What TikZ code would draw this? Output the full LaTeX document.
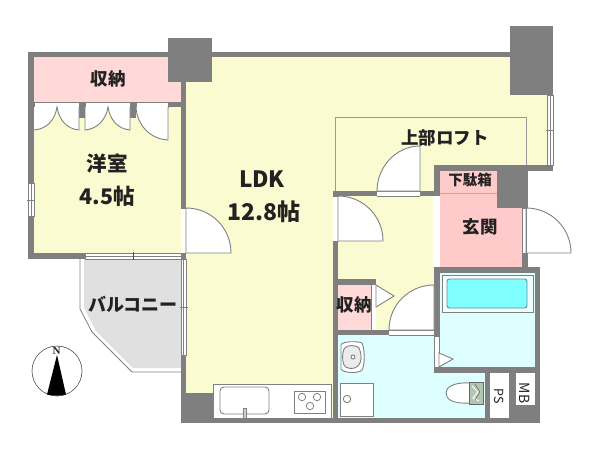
\documentclass[tikz,border=0pt]{standalone}
\usepackage{fontspec}
\setmainfont{Liberation Serif}
\newfontfamily\jp{Noto Sans CJK JP}
\definecolor{wallc}{HTML}{7F7F7F}
\definecolor{roomy}{HTML}{FBFBD2}
\definecolor{pinkc}{HTML}{FFD8D8}
\definecolor{pinkd}{HTML}{FFCACA}
\definecolor{cyanl}{HTML}{DDFFFF}
\definecolor{cyand}{HTML}{80FFFF}
\definecolor{balc}{HTML}{E0E0E0}
\definecolor{linec}{HTML}{808080}
\definecolor{textc}{HTML}{222222}
\tikzset{
 wall/.style={fill=wallc,draw=none},
 thin line/.style={draw=linec,line width=0.9pt},
 doorleaf/.style={draw=linec,line width=0.9pt,fill=white},
 lab/.style={text=textc,inner sep=0pt,align=center},
}
\begin{document}
\begin{tikzpicture}[x=1pt,y=-1pt]
\useasboundingbox[fill=white] (0,0) rectangle (600,450);
% floors
\fill[roomy] (34,57) rectangle (181,253);
\fill[roomy] (186,57) -- (547,57) -- (547,165) -- (434,165) -- (434,191) -- (333,191) -- (333,418) -- (186,418) -- cycle;
\fill[roomy] (338,196) rectangle (434,330);
\fill[pinkc] (34,57) rectangle (181,102);
\fill[pinkc] (338,285) rectangle (371,330);
\fill[pinkd] (440,171) rectangle (522,267);
\fill[cyanl] (338,335) rectangle (434,367);
\fill[cyanl] (338,367) rectangle (485,418);
\fill[cyanl] (440,273) rectangle (535,367);
% balcony
\fill[balc] (84,259) -- (181,259) -- (181,368) -- (133,368) -- (96,331) -- (84,308) -- cycle;
\draw[thin line,line width=0.8pt] (80,259) -- (80,309) -- (92,332) -- (132,372) -- (181,372);
% walls
\fill[wall] (28,52) rectangle (168,57);
\fill[wall] (28,52) rectangle (34,259);
\fill[wall] (28,253) rectangle (85,259);
\fill[wall] (168,38) rectangle (212,82);
\fill[wall] (212,52) rectangle (510,57);
\fill[wall] (510,26) rectangle (553,95);
\fill[wall] (181,82) rectangle (186,208);
\fill[wall] (79,102) rectangle (85,118);
\fill[wall] (130,102) rectangle (136,118);
\fill[wall] (168,102) rectangle (181,107);
\fill[wall] (181,253) rectangle (186,259);
\fill[wall] (434,165) rectangle (553,171);
\fill[wall] (434,165) rectangle (440,193);
\fill[wall] (497,171) rectangle (528,208);
\fill[wall] (522,253) rectangle (528,267);
\fill[wall] (333,191) rectangle (377,196);
\fill[wall] (420,191) rectangle (440,196);
\fill[wall] (333,241) rectangle (338,423);
\fill[wall] (338,279) rectangle (376,285);
\fill[wall] (338,330) rectangle (389,335);
\fill[wall] (434,267) rectangle (540,273);
\fill[wall] (434,273) rectangle (440,336);
\fill[wall] (434,367) rectangle (535,373);
\fill[wall] (535,267) rectangle (540,423);
\fill[wall] (181,355) rectangle (186,393);
\fill[wall] (181,393) rectangle (213,423);
\fill[wall] (213,418) rectangle (540,423);
\fill[wall] (485,373) rectangle (535,418);
\fill[white] (433,196) rectangle (440,267);
\fill[white] (490,373) rectangle (509,418);
\fill[white] (516,373) rectangle (535,405);
% closet top rail
\draw[thin line,fill=white,line width=0.5pt] (34,102) rectangle (79,107);
\draw[thin line,fill=white,line width=0.5pt] (85,102) rectangle (130,107);
\draw[thin line,fill=white,line width=0.5pt] (136,102) rectangle (168,107);
% closet doors
\fill[white] (34,107) -- (34,130) .. controls (47,129) and (55,120) .. (57,107) .. controls (59,120) and (67,129) .. (79,130) -- (79,107) -- cycle;
\draw[thin line] (34,130) .. controls (47,129) and (55,120) .. (57,107) .. controls (59,120) and (67,129) .. (79,130) -- (79,107);
\fill[white] (85,107) -- (85,130) .. controls (97,129) and (106,120) .. (108,107) .. controls (110,120) and (118,129) .. (130,130) -- (130,107) -- cycle;
\draw[thin line] (85,107) -- (85,130) .. controls (97,129) and (106,120) .. (108,107) .. controls (110,120) and (118,129) .. (130,130) -- (130,107);
\fill[white] (136,107) .. controls (137,125) and (150,139) .. (168,140) -- (168,107) -- cycle;
\draw[thin line] (136,107) .. controls (137,125) and (150,139) .. (168,140) -- (168,107);
% western room left window
\draw[thin line,fill=white,line width=0.6pt] (28,183) rectangle (34,216);
\draw[thin line,line width=0.5pt] (31,183) -- (31,216) (27,200) -- (35,200);
% south window of western room
\draw[thin line,fill=white,line width=0.6pt] (85,253) rectangle (181,259);
\draw[thin line,line width=0.5pt] (85,256) -- (181,256);
\draw[black!70,line width=0.5pt] (133,252) -- (133,260);
% balcony window
\draw[thin line,fill=white,line width=0.6pt] (181,259) rectangle (186,355);
\draw[thin line,line width=0.5pt] (183.5,259) -- (183.5,355) (180,307) -- (188,307);
% door western room
\fill[white] (181,208) rectangle (186,253);
\draw[doorleaf] (186,208) .. controls (211,208) and (231,228) .. (231,253) -- (186,253) -- cycle;
\draw[thin line,line width=0.5pt] (181,208) -- (186,208) (181,253) -- (186,253);
% loft outline
\draw[draw=linec!80,line width=0.6pt] (335,191) -- (335,117) -- (526,117) -- (526,165);
% east window
\draw[thin line,fill=white,line width=0.6pt] (547,95) rectangle (553,165);
\draw[thin line,line width=0.5pt] (550,95) -- (550,165) (546,130) -- (554,130);
% loft door
\fill[white] (377,191) rectangle (420,196);
\draw[thin line,line width=0.5pt] (377,191) -- (420,191) (377,196) -- (420,196);
\draw[doorleaf] (377,191) .. controls (377,167) and (396,146) .. (420,146) -- (420,191) -- cycle;
% corridor-LDK door
\fill[white] (333,196) rectangle (338,241);
\draw[doorleaf] (338,196) .. controls (363,196) and (383,216) .. (383,241) -- (338,241) -- cycle;
\draw[thin line,line width=0.5pt] (333,196) -- (338,196) (333,241) -- (338,241);
% entrance door
\fill[white] (522,208) rectangle (528,253);
\draw[doorleaf] (526,208) .. controls (551,208) and (571,228) .. (571,253) -- (526,253) -- cycle;
\draw[thin line,line width=0.5pt] (522,208) rectangle (526,253);
% getabako separator
\draw[pinkd!80!black,line width=0.6pt] (440,193) -- (497,193);
% storage door
\fill[white] (371,285) rectangle (376,330);
\draw[linec,line width=0.4pt] (371,285) -- (371,330);
\draw[doorleaf] (376,285) -- (394,296) -- (376,307) -- cycle;
% bath-corridor door
\fill[white] (389,330) rectangle (434,335);
\draw[thin line,line width=0.5pt] (389,330) -- (434,330) (389,335) -- (434,335);
\draw[doorleaf] (389,330) .. controls (389,305) and (409,285) .. (434,285) -- (434,330) -- cycle;
% bath door
\draw[thin line,fill=white,line width=0.5pt] (434,336) rectangle (439,367);
\draw[doorleaf] (439,353) -- (453,359) -- (439,367) -- cycle;
% tub
\draw[thin line,fill=white!60!cyanl,line width=0.7pt] (442,275) rectangle (533,312);
\draw[draw=black!40!cyan!60!gray,fill=cyand,line width=0.9pt,rounded corners=2.5pt] (447,279) rectangle (527,308);
% wash basin
\draw[thin line,fill=white] (341,345) .. controls (342,341) and (358,341) .. (362,343) .. controls (365,350) and (365,365) .. (362,370) .. controls (358,374) and (343,373) .. (341,369) -- cycle;
\draw[thin line,fill=black!8] (344,349) .. controls (346,344) and (357,345) .. (359,348) .. controls (362,355) and (362,362) .. (358,366) .. controls (354,370) and (346,369) .. (344,365) .. controls (342,360) and (342,354) .. (344,349) -- cycle;
\draw[thin line,fill=white] (353,357) circle[radius=2];
% washing-machine pan
\draw[thin line,fill=white] (340,383) rectangle (373,416);
\draw[thin line,fill=white] (347,399) circle[radius=3.7];
% toilet
\draw[thin line,fill=white] (470,383) .. controls (452,382) and (446,388) .. (446,393) .. controls (446,399) and (452,404) .. (470,403) -- cycle;
\draw[draw=black!60,fill=black!25!green!20!gray!50,line width=0.6pt] (469,382) rectangle (483,404);
\draw[white,line width=1pt] (472,386) -- (478,392) -- (473,398) -- (479,401);
\draw[black!60,line width=0.5pt] (475,384) -- (480,392) -- (475,400);
% kitchen
\draw[thin line,fill=white] (213,384) rectangle (331,418);
\draw[thin line,rounded corners=4pt] (220,387) rectangle (269,414);
\draw[thin line,fill=black!18,line width=0.5pt] (243,408) rectangle (246,418);
\draw[thin line] (294,391) rectangle (325,413);
\draw[thin line,line width=0.8pt] (302,397) circle[radius=3.7] (317,397) circle[radius=3.7] (310,406) circle[radius=3.7];
% compass
\draw[black!70,line width=0.6pt] (57,371) circle[radius=25];
\fill[black] (57,355) -- (66,394.5) .. controls (60,396) and (54,396) .. (47,394.5) -- cycle;
\node[font=\bfseries\fontsize{11}{11}\selectfont,inner sep=0pt,text=textc] (nmark) at (56.5,351) {N};
% labels
\node[lab,font=\jp\bfseries\fontsize{17.5}{17.5}\selectfont] (l1) at (108,79) {収納};
\node[lab,font=\jp\bfseries\fontsize{20.5}{20.5}\selectfont] (l2) at (107,164) {洋室};
\node[lab,font=\jp\bfseries\fontsize{21.5}{21.5}\selectfont] (l3) at (107,196) {4.5帖};
\node[lab,font=\jp\bfseries\fontsize{22.5}{22.5}\selectfont] (l4) at (262,179) {LDK};
\node[lab,font=\jp\bfseries\fontsize{23}{23}\selectfont] (l5) at (264,212) {12.8帖};
\node[lab,font=\jp\bfseries\fontsize{17.5}{17.5}\selectfont] (l6) at (445,138) {上部ロフト};
\node[lab,font=\jp\bfseries\fontsize{14.5}{14.5}\selectfont] (l7) at (470,180) {下駄箱};
\node[lab,font=\jp\bfseries\fontsize{17.5}{17.5}\selectfont] (l8) at (480,227) {玄関};
\node[lab,font=\jp\bfseries\fontsize{17.5}{17.5}\selectfont] (l9) at (354,305) {収納};
\node[lab,font=\jp\bfseries\fontsize{18}{18}\selectfont] (l10) at (133,304) {バルコニー};
\node[lab,font=\jp\fontsize{12.5}{12.5}\selectfont,rotate=-90] (l11) at (499,396) {PS};
\node[lab,font=\jp\fontsize{14}{14}\selectfont,rotate=-90] (l12) at (525,393) {MB};
\end{tikzpicture}
\end{document}
